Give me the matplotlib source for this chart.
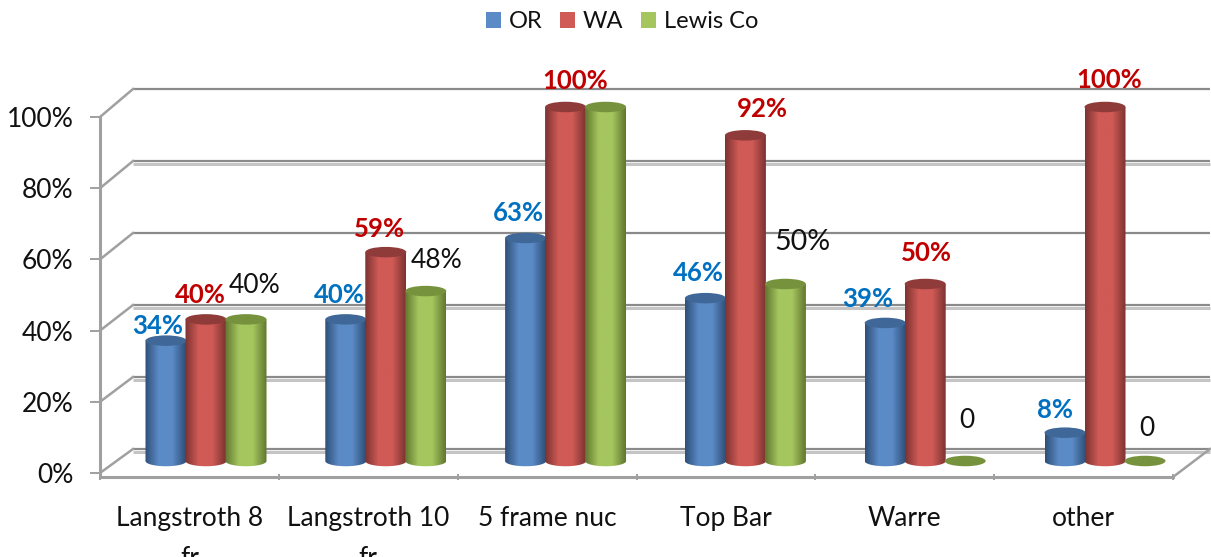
import numpy as np
import matplotlib
matplotlib.use("Agg")
import matplotlib.pyplot as plt
from matplotlib.colors import LinearSegmentedColormap
from matplotlib.patches import Ellipse, Patch, PathPatch
from matplotlib.path import Path
from matplotlib.transforms import Affine2D

categories = ["Langstroth 8\nfr", "Langstroth 10\nfr", "5 frame nuc", "Top Bar", "Warre", "other"]
series_names = ["OR", "WA", "Lewis Co"]
or_values = [34, 40, 63, 46, 39, 8]
wa_values = [40, 59, 100, 92, 50, 100]
lewis_values = [40, 48, 100, 50, 0, 0]
or_labels = ["34%", "40%", "63%", "46%", "39%", "8%"]
wa_labels = ["40%", "59%", "100%", "92%", "50%", "100%"]
lewis_labels = ["40%", "48%", None, "50%", "0", "0"]
y_ticks = [0, 20, 40, 60, 80, 100]
y_tick_labels = ["0%", "20%", "40%", "60%", "80%", "100%"]

W, H = 1211, 557
plt.rcParams["font.family"] = ["Lato", "DejaVu Sans"]
fig = plt.figure(figsize=(W / 100, H / 100), dpi=100, facecolor="white")
px = Affine2D().scale(1, -1).translate(0, H)   # image pixels -> display

GREY, GRID, LIGHT = "#a0a0a0", "#8a8a8a", "#c4c4c4"
FS = 19

# ---- frame axes: front plane with real ticks
def rect(l, t, r, b):
    return [l / W, 1 - b / H, (r - l) / W, (b - t) / H]

scale_f = (473 - 117) / 100
frame = fig.add_axes(rect(100, 117, 1173, 477), facecolor="none", zorder=1)
frame.set_xlim(0, 6)
frame.set_ylim(-(477 - 473) / scale_f, 100)
for s in ("top", "right"):
    frame.spines[s].set_visible(False)
for s in ("left", "bottom"):
    frame.spines[s].set_color(GREY)
    frame.spines[s].set_linewidth(2.2)
frame.set_yticks(y_ticks, y_tick_labels, fontsize=FS, color="#111111")
frame.tick_params(axis="y", length=7, width=1.4, color=GREY, pad=12)
frame.set_xticks(np.arange(6) + 0.5, categories, fontsize=FS, color="#111111", linespacing=1.75)
frame.tick_params(axis="x", which="major", length=0, pad=21)
frame.set_xticks(np.arange(7), minor=True)
frame.tick_params(axis="x", which="minor", length=5, width=1.4, color=GREY, direction="inout")

# ---- back wall
def back_y(v):
    return 449 - 3.6 * v

def front_y(v):
    return 473 - scale_f * v

for v in y_ticks:
    y = back_y(v)
    if v not in (100, 60):
        frame.plot([133, 1210], [y + 2.5, y + 2.5], color=LIGHT, lw=2.2, transform=px, clip_on=False, zorder=1, solid_capstyle="butt")
    frame.plot([133, 1210], [y, y], color=GRID, lw=1.6, transform=px, clip_on=False, zorder=1.1, solid_capstyle="butt")
    frame.plot([100, 133], [front_y(v), y], color=GREY, lw=1.8, transform=px, clip_on=False, zorder=1.2)
frame.plot([1173, 1210], [477, 449], color=GREY, lw=1.8, transform=px, clip_on=False, zorder=1.2)

# ---- bars axes: category index vs percent, spans whole figure
BAR0_X, STEP_X = 206.0, 179.8
BAR0_Y, STEP_Y = 461.0, 3.54
ax = fig.add_axes([0, 0, 1, 1], facecolor="none", zorder=2)
xlim = (-BAR0_X / STEP_X, (W - BAR0_X) / STEP_X)
ylim = ((BAR0_Y - H) / STEP_Y, BAR0_Y / STEP_Y)
ax.set_axis_off()

BW = 41 / STEP_X
EH = 10.5 / STEP_Y
colors = [
    ("#2f4f78", "#5b8bc6", "#3f6797"),
    ("#7c3331", "#d05a56", "#8e3b39"),
    ("#61772f", "#a5c65f", "#76923c"),
]

def cylinder(x, v, edge, mid, top, z):
    th = np.linspace(np.pi, 2 * np.pi, 40)
    xs = x + BW / 2 * np.cos(th)
    ys = EH / 2 * np.sin(th)
    pts = np.r_[np.c_[xs, ys], [[x + BW / 2, v], [x - BW / 2, v]], [[xs[0], ys[0]]]]
    if v > 0:
        cmap = LinearSegmentedColormap.from_list("c", [edge, mid, mid, edge], N=64)
        im = ax.imshow(np.linspace(0, 1, 64)[None, :], extent=(x - BW / 2, x + BW / 2, -EH, v + EH),
                       aspect="auto", cmap=cmap, zorder=z, interpolation="bilinear")
        clip = PathPatch(Path(pts), transform=ax.transData, facecolor="none", edgecolor="none")
        ax.add_patch(clip)
        im.set_clip_path(clip)
    ax.add_patch(Ellipse((x, v), BW, EH, facecolor=top, edgecolor="none", zorder=z + 0.1))

series = [or_values, wa_values, lewis_values]
for s, vals in enumerate(series):
    for i, v in enumerate(vals):
        cylinder(i + (s - 1) * 40 / STEP_X, v, *colors[s], 3 + s)
ax.set_xlim(*xlim)
ax.set_ylim(*ylim)

# ---- data labels (offsets from bar top, in image pixels)
or_off = [(-8, 15), (-6, 24), (-7, 25), (-7, 25), (-17, 24), (-10, 23)]
wa_off = [(-6, 24), (-6, 23), (10, 26), (17, 26), (1, 31), (4, 27)]
lewis_off = [(9, 34), (11, 31), (0, 0), (17, 42), (2, 40), (2, 32)]
styles = [("#0070c0", "bold", 18.5), ("#c00000", "bold", 18.5), ("#111111", "normal", 19)]
for s, (vals, labs, offs) in enumerate(zip(series, [or_labels, wa_labels, lewis_labels], [or_off, wa_off, lewis_off])):
    col, wt, fs = styles[s]
    for i, (v, lab, off) in enumerate(zip(vals, labs, offs)):
        if lab is None:
            continue
        size = 20.5 if lab == "50%" and s == 2 else fs
        ax.annotate(lab, (i + (s - 1) * 40 / STEP_X, v), xytext=(off[0] * 0.72, off[1] * 0.72),
                    textcoords="offset points", ha="center", va="center", color=col,
                    fontweight=wt, fontsize=size, zorder=10)

# ---- legend
handles = [Patch(facecolor=c[1], edgecolor="none", label=n) for c, n in zip(colors, series_names)]
ax.legend(handles=handles, loc="center", bbox_to_anchor=(622 / W, 1 - 22 / H), ncol=3, frameon=False,
          fontsize=17, handlelength=0.64, handleheight=0.64, handletextpad=0.34, columnspacing=0.72,
          borderpad=0, labelcolor="#111111")

fig.savefig("out.png", dpi=100, facecolor="white")
